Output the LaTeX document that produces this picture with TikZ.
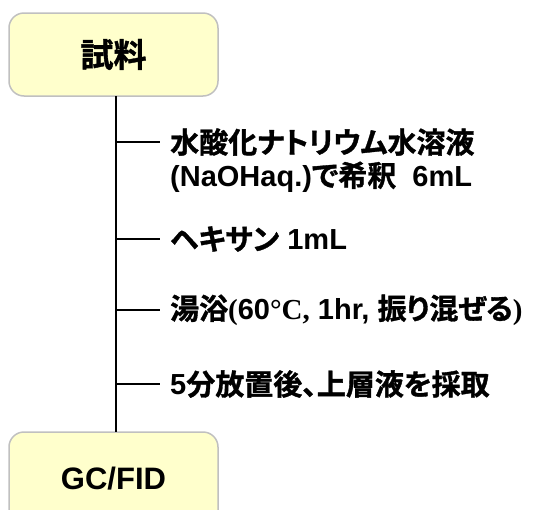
\documentclass[tikz,border=0pt]{standalone}
\usepackage{fontspec}
\setmainfont{Liberation Sans}
\newfontfamily\jp{Noto Sans CJK JP}[BoldFont={* Bold}, BoldFeatures={FakeBold=1.2}, RawFeature={+palt}]
\newfontfamily\jpf{Noto Sans CJK JP}[BoldFont={* Bold}, BoldFeatures={FakeBold=1.2}]
\newfontfamily\serifb{Liberation Serif}
\newcommand{\J}[1]{{\jp\bfseries\fontsize{29}{35}\selectfont #1}}
\newcommand{\Sr}[1]{{\serifb\bfseries #1}}
\definecolor{boxfill}{HTML}{FFFFCC}
\definecolor{boxline}{HTML}{C0C0C0}
\tikzset{
  stepbox/.style={draw=boxline, line width=1.5pt, fill=boxfill, rounded corners=15pt,
    minimum width=209pt, inner sep=0pt, font=\fontsize{31}{36}\selectfont\bfseries},
  lbl/.style={anchor=west, inner xsep=10pt, inner ysep=0pt, font=\fontsize{29}{35}\selectfont\bfseries},
  conn/.style={line width=1.5pt, black}
}
\begin{document}
\begin{tikzpicture}[x=1pt,y=-1pt]
\useasboundingbox (0,0) rectangle (533,509);
\node[stepbox, minimum height=83pt] (top) at (113.5,54.5) {{\jpf\bfseries\fontsize{33}{36}\selectfont 試料}};
\node[stepbox, minimum height=94pt] (bot) at (113.5,479) {GC/FID};
\coordinate (s0) at (116,96);
\coordinate (s5) at (116,432);
\node[lbl] (t1) at (160,142) {\J{水酸化ナトリウム水溶液}};
\node[lbl] (t1b) at (160,177) {(NaOHaq.)\J{で希釈}\ \ 6mL};
\node[lbl] (t2) at (160,239) {\J{ヘキサン} 1mL};
\node[lbl] (t3) at (160,310) {\J{湯浴}\Sr{(}60\Sr{°C,} 1hr,\ \J{振り混ぜる}\Sr{)}};
\node[lbl] (t4) at (160,384) {5\J{分放置後、上層液を採取}};
\draw[conn] (s0) -- (s5);
\draw[conn] (s0 |- t1.west) -- (t1.west);
\draw[conn] (s0 |- t2.west) -- (t2.west);
\draw[conn] (s0 |- t3.west) -- (t3.west);
\draw[conn] (s0 |- t4.west) -- (t4.west);
\end{tikzpicture}
\end{document}
